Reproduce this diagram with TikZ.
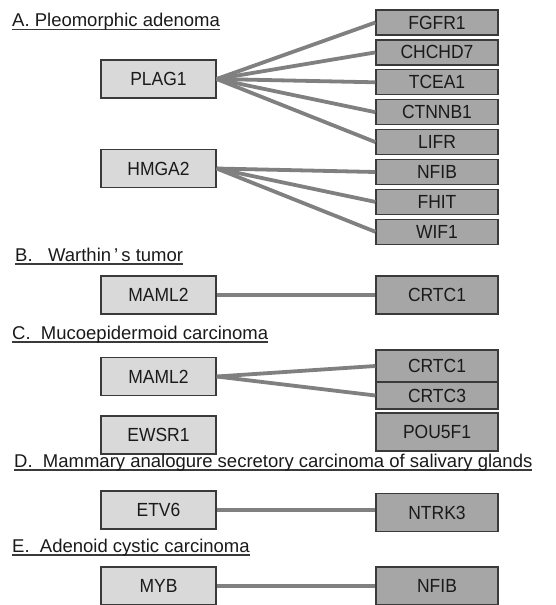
\documentclass[tikz,border=0pt]{standalone}
\usepackage{fontspec}
\setmainfont[FakeStretch=0.92]{Liberation Sans}
\newfontfamily\headfont{Liberation Sans}
\usepackage{xcolor}
\usepackage{tikz}
\usetikzlibrary{positioning}

\definecolor{genelight}{HTML}{D9D9D9}
\definecolor{genedark}{HTML}{A6A6A6}
\definecolor{fusionline}{HTML}{808080}
\definecolor{boxline}{HTML}{3A3A3A}
\definecolor{inktext}{HTML}{1A1A1A}

% underlined section title
\newcommand{\ulheading}[1]{\setbox0\hbox{#1}\rlap{\color{boxline}\rule[-3.5pt]{\wd0}{1.3pt}}\box0}

\tikzset{
    partner/.style={
        draw=boxline,
        line width=1.2pt,
        fill=genelight,
        text=inktext,
        minimum width=115pt,
        minimum height=38pt,
        inner sep=0pt,
        font=\fontsize{19}{19}\selectfont
    },
    target/.style={
        partner,
        fill=genedark,
        minimum width=122pt,
        minimum height=25pt
    },
    fusion/.style={
        draw=fusionline,
        line width=3.8pt
    },
    heading/.style={
        anchor=base west,
        inner sep=0pt,
        text=inktext,
        font=\headfont\fontsize{18.5}{18.5}\selectfont
    }
}

\begin{document}
\begin{tikzpicture}[x=1pt,y=-1pt]
                \useasboundingbox (0,0) rectangle (555,605);

                % A. Pleomorphic adenoma
                \node[heading] (titleA) at (12,27) {\ulheading{A.\ Pleomorphic adenoma}};
                \node[partner] (plag) at (158.5,79) {PLAG1};
                \node[partner] (hmga) at (158.5,168.5) {HMGA2};
                \foreach \gene [count=\i] in {FGFR1,CHCHD7,TCEA1,CTNNB1,LIFR,NFIB,FHIT,WIF1}
                    \node[target] (pa\i) at (437,{22.5+29.9*(\i-1)}) {\gene};
                \foreach \i in {1,...,5}
                    \draw[fusion] (plag.east) -- (pa\i.west);
                \foreach \i in {6,7,8}
                    \draw[fusion] (hmga.east) -- (pa\i.west);

                % B. Warthin's tumor
                \node[heading] (titleB) at (15,261) {\ulheading{B.\ \ \ Warthin\,’\,s tumor}};
                \node[partner] (mamlB) at (158.5,295) {MAML2};
                \node[target, minimum height=38pt] (crtcB) at (437,295) {CRTC1};
                \draw[fusion] (mamlB) -- (crtcB);

                % C. Mucoepidermoid carcinoma
                \node[heading] (titleC) at (12,339) {\ulheading{C.\ \ Mucoepidermoid carcinoma}};
                \node[partner] (mamlC) at (158.5,376.5) {MAML2};
                \node[partner] (ewsr) at (158.5,435) {EWSR1};
                \node[target, minimum height=32pt] (crtcCa) at (437,366) {CRTC1};
                \node[target, minimum height=27pt] (crtcCb) at (437,395.5) {CRTC3};
                \node[target, minimum height=38pt] (pou) at (437,432) {POU5F1};
                \draw[fusion] (mamlC.east) -- (crtcCa.west);
                \draw[fusion] (mamlC.east) -- (crtcCb.west);

                % D. Mammary analogue secretory carcinoma
                \node[heading] (titleD) at (14,467) {\ulheading{D.\ \ Mammary analogure secretory carcinoma of salivary glands}};
                \node[partner] (etv) at (158.5,510) {ETV6};
                \node[target, minimum height=38pt] (ntrk) at (437,512.5) {NTRK3};
                \draw[fusion] (etv.east) -- (etv.east -| ntrk.west);

                % E. Adenoid cystic carcinoma
                \node[heading] (titleE) at (12,552) {\ulheading{E.\ \ Adenoid cystic carcinoma}};
                \node[partner] (myb) at (158.5,586) {MYB};
                \node[target, minimum height=38pt] (nfibE) at (437,586) {NFIB};
                \draw[fusion] (myb) -- (nfibE);
            \end{tikzpicture}
\end{document}
